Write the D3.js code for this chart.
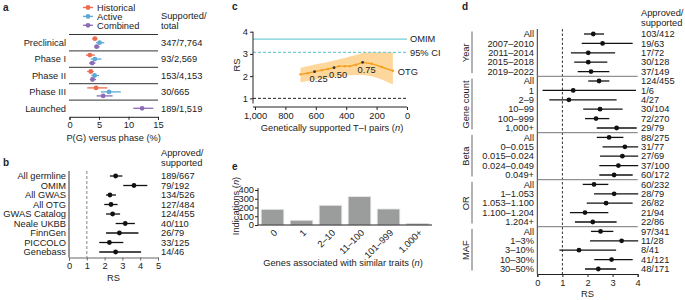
<!DOCTYPE html>
<html>
<head>
<meta charset="utf-8">
<script src="https://cdn.jsdelivr.net/npm/d3@7"></script>
<style>
  body { margin: 0; background: #fff; }
  svg { font-family: "Liberation Sans", Arial, Helvetica, sans-serif; font-size: 9.3px; }
  text { fill: #222; }
</style>
</head>
<body>
<div id="chart"></div>
<script>
// ---- panel a data ----
const phases = ['Preclinical', 'Phase I', 'Phase II', 'Phase III', 'Launched'];
const phaseCounts = ['347/7,764', '93/2,569', '153/4,153', '30/665', '189/1,519'];
const histPG = [4.3, 3.45, 3.6, 4.5, null];
const histLo = [3.85, 2.8, 3.0, 3.0, null];
const histHi = [4.75, 4.3, 4.1, 6.4, null];
const activePG = [5.1, 4.3, 4.25, 6.7, null];
const activeLo = [4.5, 3.6, 3.7, 5.3, null];
const activeHi = [5.9, 5.4, 5.0, 8.7, null];
const combPG = [4.6, 3.85, 3.9, 5.7, 12.3];
const combLo = [4.2, 3.3, 3.45, 4.6, 10.8];
const combHi = [5.1, 4.4, 4.5, 7.3, 14.2];

// ---- panel b data ----
const sources = ['All germline', 'OMIM', 'All GWAS', 'All OTG', 'GWAS Catalog', 'Neale UKBB', 'FinnGen', 'PICCOLO', 'Genebass'];
const sourceRS = [2.62, 3.65, 2.3, 2.36, 2.45, 3.16, 2.83, 2.27, 2.62];
const sourceLo = [2.3, 3.05, 2.08, 1.98, 2.08, 2.62, 2.08, 1.7, 1.7];
const sourceHi = [3.0, 4.4, 2.64, 2.73, 2.87, 3.7, 3.9, 3.05, 4.05];
const sourceCounts = ['189/667', '79/192', '134/526', '127/484', '124/455', '40/110', '26/79', '33/125', '14/46'];

// ---- panel c data ----
const otgPairs = [701, 653, 608, 560, 520, 480, 447, 409, 376, 336, 292, 232, 166, 93];
const otgRS = [2.08, 2.13, 2.2, 2.27, 2.32, 2.38, 2.45, 2.45, 2.45, 2.51, 2.62, 2.56, 2.41, 2.24];
const otgLo = [1.72, 1.78, 1.84, 1.88, 1.92, 1.96, 2.0, 2.02, 2.04, 2.05, 2.05, 2.0, 1.85, 1.62];
const otgHi = [2.38, 2.45, 2.52, 2.58, 2.64, 2.7, 2.76, 2.82, 2.88, 2.95, 3.05, 3.08, 3.08, 3.08];
const quantileIdx = [2, 5, 10];
const quantileLabels = ['0.25', '0.50', '0.75'];
const omimRS = 3.67;
const omimCI = 3.07;

// ---- panel d data ----
const dGroups = ['Year', 'Gene count', 'Beta', 'OR', 'MAF'];
const dGroupOf = [0,0,0,0,0, 1,1,1,1,1,1, 2,2,2,2,2, 3,3,3,3,3, 4,4,4,4,4];
const dLabels = ['All', '2007–2010', '2011–2014', '2015–2018', '2019–2022',
  'All', '1', '2–9', '10–99', '100–999', '1,000+',
  'All', '0–0.015', '0.015–0.024', '0.024–0.049', '0.049+',
  'All', '1–1.053', '1.053–1.100', '1.100–1.204', '1.204+',
  'All', '1–3%', '3–10%', '10–30%', '30–50%'];
const dRS = [2.23, 2.6, 2.03, 2.03, 2.14,
  2.46, 1.43, 1.26, 2.5, 2.34, 3.16,
  2.86, 3.49, 3.39, 3.23, 3.06,
  2.26, 3.06, 2.74, 1.9, 2.21,
  2.52, 3.36, 1.66, 2.96, 2.43];
const dLo = [1.86, 1.77, 1.34, 1.47, 1.61,
  2.03, 0.21, 0.48, 1.83, 1.9, 2.37,
  2.37, 2.6, 2.5, 2.47, 2.47,
  1.81, 2.26, 1.97, 1.3, 1.5,
  2.14, 2.1, 0.88, 2.27, 1.9];
const dHi = [2.66, 3.8, 3.1, 2.79, 2.87,
  2.87, 3.93, 3.16, 3.4, 2.87, 3.96,
  3.43, 4.02, 4.02, 4.02, 3.8,
  2.83, 4.02, 3.8, 2.83, 3.16,
  3.03, 4.02, 3.14, 3.8, 3.14];
const dCounts = ['103/412', '19/63', '17/72', '30/128', '37/149',
  '124/455', '1/6', '4/27', '30/104', '72/270', '29/79',
  '88/275', '31/77', '27/69', '37/100', '60/172',
  '60/232', '28/79', '26/82', '21/94', '22/86',
  '97/341', '11/28', '8/41', '41/121', '48/171'];

// ---- panel e data ----
const geneBins = ['0', '1', '2–10', '11–100', '101–999', '1,000+'];
const indications = [179, 54, 225, 324, 183, 19];

const svg = d3.select('#chart').append('svg')
  .attr('width', 685).attr('height', 300);

function panelLabel(x, y, t) {
  svg.append('text').attr('x', x).attr('y', y)
    .attr('font-weight', 'bold').attr('font-size', '10px').text(t);
}

function ciRow(g, xs, y, v, lo, hi, color, r) {
  g.append('line')
    .attr('x1', xs(lo)).attr('x2', xs(hi))
    .attr('y1', y).attr('y2', y)
    .attr('stroke', color).attr('stroke-width', 1.3);
  g.append('circle').attr('cx', xs(v)).attr('cy', y).attr('r', r).attr('fill', color);
}

function styleAxis(g, color) {
  g.select('.domain').attr('stroke', color || '#222');
  g.selectAll('.tick line').attr('stroke', color || '#222');
  g.selectAll('.tick text').attr('fill', '#222')
    .attr('font-size', '9.3px').attr('font-family', '"Liberation Sans", Arial, sans-serif');
}

// ================= panel a =================
panelLabel(3, 11, 'a');
const colHist = '#ef6a4c', colActive = '#5ea9d6', colComb = '#8e6bb6';
const xA = d3.scaleLinear().domain([0, 15]).range([69.5, 158]);
const rowA = i => 42.7 + i * 16.4;
const gA = svg.append('g');

// legend
[['Historical', colHist], ['Active', colActive], ['Combined', colComb]].forEach(function(d, i) {
  const y = 7.5 + i * 8.9;
  gA.append('line').attr('x1', 83).attr('x2', 93).attr('y1', y).attr('y2', y)
    .attr('stroke', d[1]).attr('stroke-width', 1.3);
  gA.append('circle').attr('cx', 88).attr('cy', y).attr('r', 2.4).attr('fill', d[1]);
  gA.append('text').attr('x', 97).attr('y', y).attr('dy', '0.35em').text(d[0]);
});
gA.append('text').attr('x', 161).attr('y', 16).attr('dy', '0.35em').text('Supported/');
gA.append('text').attr('x', 161).attr('y', 26).attr('dy', '0.35em').text('total');

// separators above each phase row
phases.forEach(function(p, i) {
  gA.append('line').attr('x1', 69).attr('x2', 158)
    .attr('y1', rowA(i) - 8.2).attr('y2', rowA(i) - 8.2)
    .attr('stroke', '#333').attr('stroke-width', 1);
});
phases.forEach(function(p, i) {
  const y = rowA(i);
  gA.append('text').attr('x', 66).attr('y', y).attr('dy', '0.35em')
    .attr('text-anchor', 'end').text(p);
  gA.append('text').attr('x', 161).attr('y', y).attr('dy', '0.35em').text(phaseCounts[i]);
  if (histPG[i] != null) ciRow(gA, xA, y - 4, histPG[i], histLo[i], histHi[i], colHist, 2.4);
  if (activePG[i] != null) ciRow(gA, xA, y, activePG[i], activeLo[i], activeHi[i], colActive, 2.4);
  if (combPG[i] != null) ciRow(gA, xA, y + (histPG[i] != null ? 4 : 0), combPG[i], combLo[i], combHi[i], colComb, 2.4);
});
const axA = gA.append('g').attr('transform', 'translate(0,116.8)')
  .call(d3.axisBottom(xA).tickValues([0, 5, 10, 15]).tickSize(3).tickPadding(2));
styleAxis(axA);
gA.append('text').attr('x', 113.7).attr('y', 138).attr('dy', '0.35em')
  .attr('text-anchor', 'middle').text('P(G) versus phase (%)');

// ================= panel b =================
panelLabel(3, 166, 'b');
const xB = d3.scaleLinear().domain([0, 5]).range([69, 158]);
const rowB = i => 176 + i * 9.5;
const gB = svg.append('g');
gB.append('text').attr('x', 161).attr('y', 153).attr('dy', '0.35em').text('Approved/');
gB.append('text').attr('x', 161).attr('y', 163).attr('dy', '0.35em').text('supported');
gB.append('line').attr('x1', 69).attr('x2', 69).attr('y1', 171).attr('y2', 257.5)
  .attr('stroke', '#333');
gB.append('line').attr('x1', xB(1)).attr('x2', xB(1)).attr('y1', 171).attr('y2', 257.5)
  .attr('stroke', '#9a9a9a').attr('stroke-dasharray', '3,2').attr('stroke-width', 1.2);
sources.forEach(function(s, i) {
  const y = rowB(i);
  gB.append('text').attr('x', 66).attr('y', y).attr('dy', '0.35em')
    .attr('text-anchor', 'end').text(s);
  gB.append('text').attr('x', 161).attr('y', y).attr('dy', '0.35em').text(sourceCounts[i]);
  ciRow(gB, xB, y, sourceRS[i], sourceLo[i], sourceHi[i], '#111', 2.4);
});
const axB = gB.append('g').attr('transform', 'translate(0,257.5)')
  .call(d3.axisBottom(xB).ticks(5).tickSize(3).tickPadding(2));
styleAxis(axB, '#666');
gB.append('text').attr('x', 113.5).attr('y', 278).attr('dy', '0.35em')
  .attr('text-anchor', 'middle').text('RS');

// ================= panel c =================
panelLabel(232, 10, 'c');
const xC = d3.scaleLinear().domain([1000, 0]).range([255, 407]);
const yC = d3.scaleLinear().domain([0.75, 4]).range([103.9, 31.7]);
const gC = svg.append('g');

const band = d3.area()
  .x((d, i) => xC(otgPairs[i]))
  .y0((d, i) => yC(otgLo[i]))
  .y1((d, i) => yC(otgHi[i]));
gC.append('path').datum(otgRS).attr('d', band).attr('fill', '#fdd79c');

gC.append('line').attr('x1', 253).attr('x2', 407).attr('y1', yC(omimRS)).attr('y2', yC(omimRS))
  .attr('stroke', '#76cdd5').attr('stroke-width', 1.3);
gC.append('line').attr('x1', 253).attr('x2', 407).attr('y1', yC(omimCI)).attr('y2', yC(omimCI))
  .attr('stroke', '#76cdd5').attr('stroke-width', 1.3).attr('stroke-dasharray', '3,2');
gC.append('line').attr('x1', 253).attr('x2', 407).attr('y1', yC(1)).attr('y2', yC(1))
  .attr('stroke', '#222').attr('stroke-width', 1).attr('stroke-dasharray', '3,2');

const otgLine = d3.line().x((d, i) => xC(otgPairs[i])).y(d => yC(d));
gC.append('path').datum(otgRS).attr('d', otgLine)
  .attr('fill', 'none').attr('stroke', '#f5a01d').attr('stroke-width', 1.4);
gC.selectAll('.otg-pt').data(otgRS).enter().append('circle')
  .attr('cx', (d, i) => xC(otgPairs[i])).attr('cy', d => yC(d))
  .attr('r', (d, i) => quantileIdx.includes(i) ? 1.4 : 1.2)
  .attr('fill', (d, i) => quantileIdx.includes(i) ? '#333' : '#f5a01d');
quantileIdx.forEach(function(k, j) {
  gC.append('text').attr('x', xC(otgPairs[k]) + 4).attr('y', yC(otgRS[k]) + 7)
    .attr('dy', '0.35em').attr('text-anchor', 'middle').text(quantileLabels[j]);
});
gC.append('text').attr('x', xC(otgPairs[otgPairs.length - 1]) + 5).attr('y', yC(otgRS[otgRS.length - 1]) + 0.5)
  .attr('dy', '0.35em').text('OTG');
gC.append('text').attr('x', 410).attr('y', yC(omimRS)).attr('dy', '0.35em').text('OMIM');
gC.append('text').attr('x', 410).attr('y', yC(omimCI) + 0.5).attr('dy', '0.35em').text('95% CI');

const axCy = gC.append('g').attr('transform', 'translate(253,0)')
  .call(d3.axisLeft(yC).tickValues([1, 2, 3, 4]).tickFormat(d3.format('d'))
    .tickSize(3).tickPadding(2).tickSizeOuter(0));
styleAxis(axCy);
axCy.select('.domain').attr('d', 'M0,' + yC(4) + 'V' + 103.5);
const axCx = gC.append('g').attr('transform', 'translate(0,107)')
  .call(d3.axisBottom(xC).tickValues([1000, 800, 600, 400, 200, 0]).tickSize(3).tickPadding(2).tickSizeOuter(0));
styleAxis(axCx);
axCx.select('.domain').attr('d', 'M253,0H' + xC(0));
gC.append('text').attr('transform', 'translate(237,' + yC(2.5) + ') rotate(-90)')
  .attr('text-anchor', 'middle').attr('dy', '0.35em').text('RS');
const cTitle = gC.append('text').attr('x', 332).attr('y', 128).attr('dy', '0.35em')
  .attr('text-anchor', 'middle');
cTitle.append('tspan').text('Genetically supported T–I pairs (');
cTitle.append('tspan').attr('font-style', 'italic').text('n');
cTitle.append('tspan').text(')');

// ================= panel e =================
panelLabel(232, 170, 'e');
const xE = d3.scaleBand().domain(geneBins).range([258, 432]).paddingInner(0.22).paddingOuter(0.11);
const yE = d3.scaleLinear().domain([0, 400]).range([225, 190]);
const gE = svg.append('g');
gE.selectAll('.bar').data(indications).enter().append('rect')
  .attr('x', (d, i) => xE(geneBins[i])).attr('width', xE.bandwidth())
  .attr('y', d => yE(d)).attr('height', d => yE(0) - yE(d))
  .attr('fill', '#9b9d9d').attr('stroke', '#e6e6e6').attr('stroke-width', 0.8);
const axEy = gE.append('g').attr('transform', 'translate(258,0)')
  .call(d3.axisLeft(yE).tickValues([0, 100, 200, 300, 400]).tickSize(3).tickPadding(1).tickSizeOuter(0));
styleAxis(axEy);
axEy.select('.domain').attr('d', 'M0,188V225');
gE.append('line').attr('x1', 258).attr('x2', 432).attr('y1', 225).attr('y2', 225)
  .attr('stroke', '#222');
geneBins.forEach(function(b) {
  const cx = xE(b) + xE.bandwidth() / 2 + 3;
  gE.append('text').attr('transform', 'translate(' + cx + ',231) rotate(-45)')
    .attr('text-anchor', 'end').attr('dy', '0.35em').text(b);
});
const eyT = gE.append('text').attr('transform', 'translate(236,206) rotate(-90)')
  .attr('text-anchor', 'middle').attr('dy', '0.35em');
eyT.append('tspan').text('Indications (');
eyT.append('tspan').attr('font-style', 'italic').text('n');
eyT.append('tspan').text(')');
const exT = gE.append('text').attr('x', 343).attr('y', 263).attr('dy', '0.35em')
  .attr('text-anchor', 'middle');
exT.append('tspan').text('Genes associated with similar traits (');
exT.append('tspan').attr('font-style', 'italic').text('n');
exT.append('tspan').text(')');

// ================= panel d =================
panelLabel(462, 10, 'd');
const xD = d3.scaleLinear().domain([0, 4]).range([537.3, 637.7]);
const rowD = i => 34 + i * 9.4;
const gD = svg.append('g');
gD.append('text').attr('x', 641).attr('y', 13).attr('dy', '0.35em').text('Approved/');
gD.append('text').attr('x', 641).attr('y', 23).attr('dy', '0.35em').text('supported');
gD.append('line').attr('x1', xD(0)).attr('x2', xD(0)).attr('y1', 29).attr('y2', 274)
  .attr('stroke', '#333');
gD.append('line').attr('x1', xD(1)).attr('x2', xD(1)).attr('y1', 29).attr('y2', 274)
  .attr('stroke', '#333').attr('stroke-dasharray', '2.5,2');

dGroups.forEach(function(name, gi) {
  const idx = dGroupOf.map((g, i) => g === gi ? i : -1).filter(i => i >= 0);
  const y0 = rowD(idx[0]), y1 = rowD(idx[idx.length - 1]);
  gD.append('line').attr('x1', 472).attr('x2', 472).attr('y1', y0 - 2.5).attr('y2', y1 + 1.5)
    .attr('stroke', '#666').attr('stroke-width', 1);
  gD.append('text').attr('transform', 'translate(466,' + ((y0 + y1) / 2) + ') rotate(-90)')
    .attr('text-anchor', 'middle').attr('dy', '0.35em').text(name);
  if (gi > 0) {
    gD.append('line').attr('x1', 537.3).attr('x2', 637.7)
      .attr('y1', y0 - 4.7).attr('y2', y0 - 4.7).attr('stroke', '#777');
  }
});
dLabels.forEach(function(l, i) {
  const y = rowD(i);
  gD.append('text').attr('x', 534).attr('y', y).attr('dy', '0.35em')
    .attr('text-anchor', 'end').text(l);
  gD.append('text').attr('x', 641).attr('y', y).attr('dy', '0.35em').text(dCounts[i]);
  ciRow(gD, xD, y, dRS[i], dLo[i], dHi[i], '#111', 2.4);
});
const axD = gD.append('g').attr('transform', 'translate(0,274)')
  .call(d3.axisBottom(xD).ticks(4).tickSize(3).tickPadding(2));
styleAxis(axD);
gD.append('text').attr('x', 587.5).attr('y', 294).attr('dy', '0.35em')
  .attr('text-anchor', 'middle').text('RS');
</script>
</body>
</html>
